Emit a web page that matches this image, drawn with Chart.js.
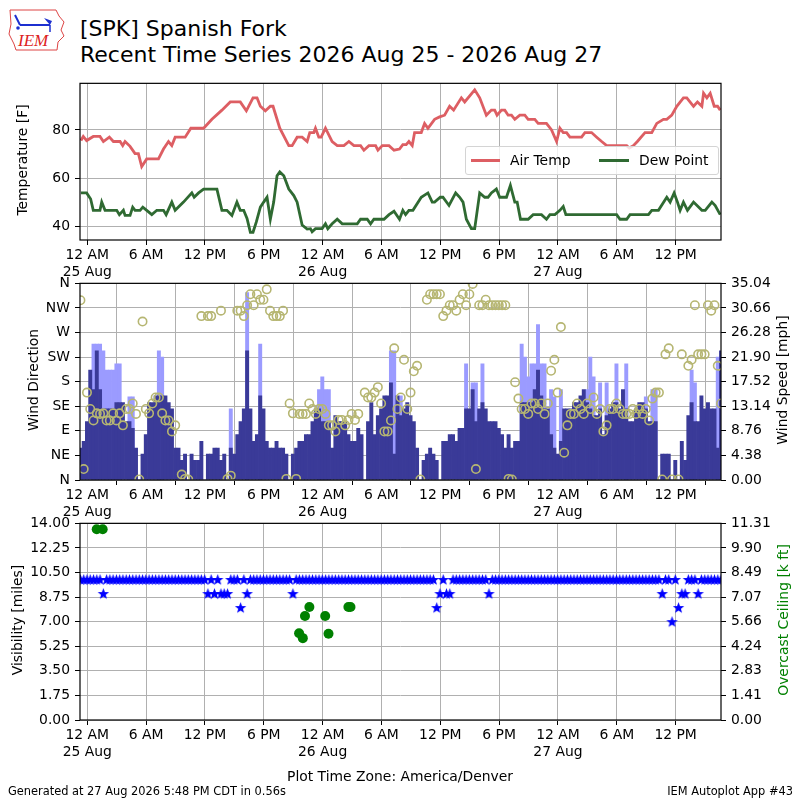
<!DOCTYPE html>
<html>
<head>
<meta charset="utf-8">
<script src="https://cdn.jsdelivr.net/npm/chart.js@4.4.1/dist/chart.umd.min.js"></script>
<style>
body { margin: 0; background: #fff; font-family: 'DejaVu Sans', sans-serif; }
#page { position: relative; width: 800px; height: 800px; overflow: hidden; }
canvas { position: absolute; left: 0; }
.lbl { position: absolute; white-space: nowrap; font-size: 13.9px; line-height: 1; color: #000; }
.rot { transform: translate(-50%, -50%) rotate(-90deg); }
</style>
</head>
<body>
<div id="page">
  <svg width="62" height="50" style="position:absolute;left:6px;top:4px">
    <path d="M4 6 L50 6 L53 12 L58 18 L55 26 L58 32 L52 38 L51 46 L10 46 L8 40 L3 30 L5 20 Z" fill="none" stroke="#d44" stroke-width="1"/>
    <line x1="14" y1="21" x2="44" y2="21" stroke="#1c2fd0" stroke-width="2"/>
    <line x1="14" y1="21" x2="9" y2="11" stroke="#1c2fd0" stroke-width="2"/>
    <path d="M38 14 L46 17 L44 21 Z" fill="#1c2fd0"/>
    <line x1="44" y1="21" x2="44" y2="28" stroke="#1c2fd0" stroke-width="1.5"/>
    <circle cx="12" cy="24" r="1.8" fill="#1c2fd0"/>
    <text x="12" y="42" font-family="'Liberation Serif', serif" font-style="italic" font-size="17" fill="#d22">IEM</text>
  </svg>
  <div style="position:absolute;left:80px;top:15.8px;font-size:22px;line-height:26.6px;white-space:nowrap">[SPK] Spanish Fork<br>Recent Time Series 2026 Aug 25 - 2026 Aug 27</div>

  <canvas id="c1" width="800" height="210" style="top:70px"></canvas>
  <canvas id="c2" width="800" height="250" style="top:270px"></canvas>
  <canvas id="c3" width="800" height="260" style="top:510px"></canvas>

  <div class="lbl rot" style="left:23px;top:160px">Temperature [F]</div>
  <div class="lbl rot" style="left:34px;top:380px">Wind Direction</div>
  <div class="lbl rot" style="left:783px;top:380px">Wind Speed [mph]</div>
  <div class="lbl rot" style="left:18px;top:620px">Visibility [miles]</div>
  <div class="lbl rot" style="left:784px;top:620px;color:#008000">Overcast Ceiling [k ft]</div>
  <div class="lbl" style="left:400px;top:777px;transform:translate(-50%,-50%)">Plot Time Zone: America/Denver</div>
  <div class="lbl" style="left:8px;top:786px;font-size:11.4px">Generated at 27 Aug 2026 5:48 PM CDT in 0.56s</div>
  <div class="lbl" style="right:7px;top:786px;font-size:11.4px">IEM Autoplot App #43</div>

  <div style="position:absolute;left:465px;top:146px;width:252px;height:27px;border:1px solid #d4d4d4;border-radius:3px;background:rgba(255,255,255,0.8)">
    <span style="position:absolute;left:5px;top:12px;width:29px;height:3px;background:#dd5e63"></span>
    <span class="lbl" style="left:44px;top:7px">Air Temp</span>
    <span style="position:absolute;left:133px;top:12px;width:30px;height:3px;background:#2f6a32"></span>
    <span class="lbl" style="left:173px;top:7px">Dew Point</span>
  </div>
</div>
<script>
// hours since 25 Aug 00:00 America/Denver
const xMin = -0.745, xMax = 64.63;
const tickHours = [0, 6, 12, 18, 24, 30, 36, 42, 48, 54, 60];
const tickLabels = [['12 AM', '25 Aug'], '6 AM', '12 PM', '6 PM', ['12 AM', '26 Aug'], '6 AM', '12 PM', '6 PM', ['12 AM', '27 Aug'], '6 AM', '12 PM'];

const tempHours = [-0.65,-0.41,-0.07,0.61,1.29,1.64,2.25,2.66,3.34,3.61,3.85,4.36,4.87,5.21,5.55,6.06,7.26,7.77,8.28,8.62,
  8.96,9.98,10.56,11.86,12.71,13.73,14.58,15.6,16.22,16.9,17.31,17.65,18.16,18.67,18.94,19.63,20.55,20.89,21.4,21.91,
  22.42,22.69,23.1,23.27,23.61,23.85,24.29,24.97,25.49,26.17,26.68,27.19,27.87,28.21,28.72,29.4,29.64,30.09,30.77,31.28,
  31.84,32.18,32.52,32.8,33.14,33.38,34.06,34.4,34.74,35.42,35.93,36.44,36.95,37.36,38.15,38.49,39.51,40.02,40.7,41.21,
  41.55,41.79,42.24,42.58,42.92,43.26,43.6,44.11,44.62,44.96,45.64,45.98,46.83,47.35,47.86,48.2,48.54,48.88,49.22,50.41,
  50.75,51.43,51.95,52.46,52.97,55.01,55.28,55.69,56.1,56.88,57.57,58.08,58.76,59.1,59.61,60.12,60.8,61.14,61.83,62.23,
  62.68,62.85,63.19,63.53,63.94,64.28,64.55];
const tempF = [75.6,77.3,75.6,77.3,77.3,75.2,77,75.2,75.2,73.5,75.2,73.2,70.2,70.2,64.8,68,68,72.1,75.2,73.5,
  77,77,80.7,80.7,84.4,88.2,91.6,91.6,87.9,93.3,93.3,89.8,87.9,89.8,89.8,80.7,73.5,73.5,77,77,
  75.2,78.9,78.9,80.7,77,77,80.7,75.2,73.5,73.5,75.2,73.5,73.5,71.6,73.5,73.5,71.6,73.5,73.5,71.6,
  72.1,73.9,73.9,75.2,73.5,78.9,78.9,82.7,80.7,84.4,85.4,86.1,89.8,88.2,93.3,91.6,96.6,93.3,86.1,88.2,
  88.2,86.1,88.2,88.2,86.1,86.1,84.4,86.1,86.1,84.4,84.4,82.7,82.7,80,75.2,80.7,78.9,78.9,77,77,
  78.9,78.9,77,75.2,73.5,73.5,72.5,73.5,75.2,78.9,78.9,82.7,84.4,84.4,86.1,89.8,93.3,93.3,89.8,91.6,
  89.8,95.2,93.3,95.2,89.8,89.8,88.2];

const dewHours = [-0.65,-0.07,0.34,0.61,1.29,1.47,1.81,3.0,3.27,3.68,3.85,4.36,4.63,4.87,5.38,5.66,6.06,6.58,7.09,7.77,
  8.04,8.62,8.96,9.81,10.66,10.9,11.35,11.86,13.22,13.73,14.24,14.75,15.26,15.6,15.95,16.29,16.63,16.9,17.24,17.65,
  17.99,18.33,18.67,19.01,19.35,19.63,20.04,20.55,21.06,21.4,21.91,22.42,22.76,22.93,23.27,23.95,24.29,24.53,24.97,25.49,
  26.0,27.53,27.87,28.55,28.89,29.23,30.26,30.77,31.28,31.84,32.18,32.46,32.8,33.21,34.06,34.74,35.18,35.42,36.0,36.27,
  36.89,37.57,37.98,38.32,38.66,39.17,39.51,40.02,40.53,40.87,41.21,41.72,42.06,42.75,43.15,43.6,43.84,44.18,44.96,45.47,
  46.32,46.83,47.18,47.69,48.2,48.54,48.81,53.99,54.33,55.01,55.35,57.23,57.57,58.25,59.1,59.44,59.85,60.19,60.46,60.8,
  61.21,61.83,62.68,63.02,63.7,64.04,64.55];
const dewF = [53.9,53.9,51.4,46.7,46.7,50.1,46.7,46.7,44.9,46.7,44.6,44.6,48,46.7,46.7,48,46.7,44.9,46.7,46.7,
  44.9,50.1,46.7,50.1,53.9,52.1,53.9,55.5,55.5,46.7,46.7,44.6,50.1,46.7,46.7,43.3,37.6,37.6,41.9,48,
  50.1,52.1,43,50.1,61,62.6,61,55.5,52.8,50.1,40.6,38.9,39.1,37.8,39.1,39.1,41.1,39.1,41.1,43,
  41.1,41.1,43,43,41.1,43,43,44.9,46.3,43,46.7,44.9,46.7,46.7,52.1,53.9,50.1,50.1,52.1,52.1,
  48.7,53.9,52.1,50.1,43,39.1,39.1,53.9,52.1,52.1,53.9,55.5,52.1,52.1,57,50.1,50.1,43,43,44.9,
  44.9,43,44.9,44.9,46.7,48.3,44.9,44.9,43,43,44.9,44.9,46.7,46.7,52.1,50.1,53.9,50.1,46.7,50.1,
  46.7,50.1,46.7,46.7,50.1,48.7,44.9];

// 20 minute observations starting 24 Aug 23:18
const obsStart = -0.7, obsStep = 1 / 3;
const windMph = [5.7,6.9,10.4,19.6,16.1,23.0,16.1,12.7,12.7,12.7, 12.7,13.8,13.8,13.8,10.4,10.4,9.2,5.7,0,4.6,
  8.1,13.8,13.8,15.0,15.0,15.0,15.0,13.8,12.7,5.7, 5.7,3.5,4.6,0,4.6,3.5,3.5,6.9,0,4.6,
  4.6,5.7,5.7,3.5,4.6,0,5.7,4.6,8.1,10.4, 12.7,23.0,12.7,6.9,8.1,15.0,12.7,6.9,5.7,5.7,
  6.9,5.7,5.7,4.6,0,4.6,5.7,6.9,6.9,8.1, 8.1,10.4,12.7,12.7,10.4,10.4,10.4,5.7,11.5,10.4,
  10.4,10.4,8.1,6.9,6.9,9.2,8.1,0,10.4,13.8, 8.1,11.5,12.7,15.0,15.0,17.3,4.6,15.0,11.5,12.7,
  13.8,11.5,10.4,5.7,0,3.5,4.6,5.7,4.6,3.5, 0,6.9,6.9,8.1,8.1,6.9,9.2,9.2,12.7,12.7,
  16.1,10.4,12.7,13.8,12.7,10.4,10.4,10.4,9.2,8.1, 5.7,8.1,5.7,6.9,6.9,13.8,13.8,13.8,13.8,16.1,
  19.6,15.0,12.7,12.7,8.1,5.7,4.6,6.9,12.7,12.7, 12.7,13.8,13.8,15.0,16.1,13.8,12.7,11.5,11.5,12.7,
  8.1,11.5,12.7,13.8,13.8,12.7,16.1,12.7,10.4,10.4, 12.7,13.8,13.8,12.7,10.4,10.4,10.4,0,4.6,4.6,
  4.6,0,3.5,0,6.9,3.5,11.5,13.8,10.4,10.4, 15.0,12.7,13.8,12.7,12.7,5.7,23.0];
const gustMph = [null,null,null,null,24.2,24.2,24.2,23.0,19.6,19.6, 19.6,20.7,20.7,null,null,14.8,14.8,null,null,null,
  null,null,null,null,23.0,21.9,null,null,null,null, null,null,null,null,null,null,null,null,null,null,
  null,null,null,null,null,null,12.7,null,null,null, null,33.4,null,null,null,24.2,null,null,null,null,
  null,null,null,null,null,null,null,null,null,null, null,null,null,16.1,18.4,16.1,16.1,null,null,null,
  null,null,null,null,null,null,null,null,null,null, null,null,null,null,null,23.0,23.0,null,15.0,null,
  null,null,null,null,null,null,null,null,null,null, null,null,null,null,null,null,null,null,20.7,null,
  17.3,17.3,null,20.7,null,null,null,null,null,null, null,null,null,null,null,24.2,21.9,18.4,20.7,20.7,
  27.7,20.7,20.7,null,16.1,14.8,null,16.1,null,null, null,null,null,null,null,16.1,21.9,18.4,null,17.3,
  null,17.3,null,null,20.7,null,null,20.7,null,null, null,null,null,14.8,null,16.1,16.1,null,null,null,
  null,null,null,null,null,null,null,19.6,17.3,null, null,null,null,null,null,21.9,null];
const windDir = [329,20,160,130,109,122,121,122,109,109, 122,109,122,100,130,130,140,121,1,290,
  130,122,140,151,151,122,109,109,89,100, null,10,2,1,null,null,null,300,null,300,
  300,null,null,310,null,2,8,null,310,310, 300,320,340,320,340,330,330,349,310,300,
  300,300,310,2,140,122,2,121,121,121, 140,130,121,130,130,121,100,100,89,110,
  110,100,110,121,110,121,null,160,151,151, 160,170,140,89,89,109,241,130,151,220,
  130,160,199,209,1,null,330,340,340,340, 340,300,310,320,320,310,330,340,320,340,
  359,20,320,320,330,320,320,320,320,320, 320,2,1,179,149,130,130,121,140,140,
  130,140,121,140,200,220,160,280,50,100, 121,121,140,130,121,140,130,151,121,130,
  89,100,130,130,140,130,121,121,121,130, 121,130,121,130,109,149,160,160,1,230,
  241,1,null,1,230,null,209,220,320,230, 230,230,320,310,320,209,140];
const visMiles = [10,10,10,10,10,10,10,9,10,10, 10,10,10,10,10,10,10,10,10,10,
  10,10,10,10,10,10,10,10,10,10, 10,10,10,10,10,10,10,10,10,9,
  10,9,10,9,9,9,10,10,10,8, 10,9,10,10,10,10,10,10,10,10,
  10,10,10,10,10,9,10,10,10,10, 10,10,10,10,10,10,10,10,10,10,
  10,10,10,10,10,10,10,10,10,10, 10,10,10,10,10,10,10,10,10,10,
  10,10,10,10,10,10,10,10,10,8, 9,10,9,9,10,10,10,10,10,10,
  10,10,10,10,10,9,10,10,10,10, 10,10,10,10,10,10,10,10,10,10,
  10,10,10,10,10,10,10,10,10,10, 10,10,10,10,10,10,10,10,10,10,
  10,10,10,10,10,10,10,10,10,10, 10,10,10,10,10,10,10,10,9,10,
  10,7,10,8,9,9,10,10,10,9, 10,10,10,10,10,10,10];

const ceilHours = [0.96, 1.57, 21.6, 21.98, 22.2, 22.65, 24.26, 24.6, 26.63, 26.84];
const ceilKft = [10.97, 10.97, 4.99, 4.71, 5.98, 6.5, 5.98, 4.96, 6.5, 6.5];

const tempTicks = [40, 60, 80];
const dirTicks = [0, 45, 90, 135, 180, 225, 270, 315, 360];
const dirLabels = ['N', 'NE', 'E', 'SE', 'S', 'SW', 'W', 'NW', 'N'];
const speedTicks = [0, 4.38, 8.76, 13.14, 17.52, 21.90, 26.28, 30.66, 35.04];
const visTicks = [0, 1.75, 3.5, 5.25, 7, 8.75, 10.5, 12.25, 14];
const ceilTicks = [0, 1.4142, 2.8284, 4.2426, 5.6569, 7.0711, 8.4853, 9.8995, 11.3137];

Chart.defaults.font.family = "'DejaVu Sans', sans-serif";
Chart.defaults.font.size = 13.9;
Chart.defaults.color = '#000';
Chart.defaults.animation = false;

const gridColor = '#b0b0b0';

let frame = {
  id: 'frame',
  afterDraw: (chart) => {
    let a = chart.chartArea;
    let ctx = chart.ctx;
    ctx.save();
    ctx.strokeStyle = '#000';
    ctx.lineWidth = 1.2;
    ctx.strokeRect(a.left, a.top, a.right - a.left, a.bottom - a.top);
    ctx.restore();
  }
};

let setTicks = (vals) => (axis) => { axis.ticks = vals.map(v => ({ value: v })); };

let xAxis = (h) => ({
  type: 'linear', min: xMin, max: xMax, offset: false,
  afterBuildTicks: setTicks(tickHours),
  afterFit: (axis) => { axis.height = h; },
  ticks: { autoSkip: false, maxRotation: 0, minRotation: 0, padding: 2, callback: (v, i) => tickLabels[i] },
  grid: { color: gridColor, tickColor: '#000', tickLength: 5 },
  border: { display: false }
});

let yAxis = (pos, min, max, vals, labels, onChart) => ({
  type: 'linear', position: pos, min: min, max: max,
  afterBuildTicks: setTicks(vals),
  afterFit: (axis) => { axis.width = pos === 'left' ? 80 : 79; },
  ticks: { padding: 5, callback: (v, i) => labels[i] },
  grid: { color: gridColor, tickColor: '#000', tickLength: 5, drawOnChartArea: onChart },
  border: { display: false }
});

let pts = (xs, ys) => xs.map((x, i) => ({ x: x, y: ys[i] }));
let windHours = windMph.map((_, i) => obsStart + i * obsStep);

// temperature panel
new Chart(document.getElementById('c1'), {
  type: 'line',
  data: {
    datasets: [
      { label: 'Air Temp', data: pts(tempHours, tempF), borderColor: '#dd5e63', borderWidth: 2.8, pointRadius: 0, tension: 0 },
      { label: 'Dew Point', data: pts(dewHours, dewF), borderColor: '#2f6a32', borderWidth: 2.8, pointRadius: 0, tension: 0 }
    ]
  },
  options: {
    responsive: false,
    layout: { padding: { top: 11, right: 79, left: 0, bottom: 0 } },
    plugins: { legend: { display: false }, tooltip: { enabled: false } },
    scales: {
      x: xAxis(40),
      y: yAxis('left', 34.4, 99.3, tempTicks, tempTicks.map(String), true)
    }
  },
  plugins: [frame]
});

// wind panel
new Chart(document.getElementById('c2'), {
  type: 'bar',
  data: {
    datasets: [
      { type: 'scatter', data: pts(windHours, windDir), yAxisID: 'y', order: 0, pointStyle: 'circle', pointRadius: 4.2,
        borderColor: '#b6b672', backgroundColor: 'rgba(0,0,0,0)', borderWidth: 1.6 },
      { type: 'bar', data: pts(windHours, windMph), yAxisID: 'y2', order: 1, backgroundColor: '#3a3a98',
        grouped: false, barPercentage: 1, categoryPercentage: 1, borderWidth: 0 },
      { type: 'bar', data: pts(windHours, gustMph), yAxisID: 'y2', order: 2, backgroundColor: '#9b9bff',
        grouped: false, barPercentage: 1, categoryPercentage: 1, borderWidth: 0 }
    ]
  },
  options: {
    responsive: false,
    layout: { padding: { top: 10, right: 0, left: 0, bottom: 0 } },
    plugins: { legend: { display: false }, tooltip: { enabled: false } },
    scales: {
      x: xAxis(40),
      y: yAxis('left', 0, 360, dirTicks, dirLabels, true),
      y2: yAxis('right', 0, 35.04, speedTicks, speedTicks.map(v => v.toFixed(2)), false)
    }
  },
  plugins: [frame]
});

// filled five point star marker
let star = document.createElement('canvas');
star.width = 13; star.height = 13;
let sctx = star.getContext('2d');
sctx.fillStyle = '#0000ff';
sctx.beginPath();
for (let k = 0; k < 10; k++) {
  let r = k % 2 === 0 ? 6 : 2.5;
  let ang = -Math.PI / 2 + k * Math.PI / 5;
  let px = 6.5 + r * Math.cos(ang), py = 6.9 + r * Math.sin(ang);
  if (k === 0) sctx.moveTo(px, py); else sctx.lineTo(px, py);
}
sctx.closePath();
sctx.fill();

// visibility / ceiling panel
new Chart(document.getElementById('c3'), {
  type: 'scatter',
  data: {
    datasets: [
      { data: pts(windHours, visMiles), yAxisID: 'y', pointStyle: star, pointRadius: 5 },
      { data: pts(ceilHours, ceilKft), yAxisID: 'y2', pointStyle: 'circle', pointRadius: 5,
        backgroundColor: '#008000', borderColor: '#008000', borderWidth: 0 }
    ]
  },
  options: {
    responsive: false,
    layout: { padding: { top: 10, right: 0, left: 0, bottom: 0 } },
    plugins: { legend: { display: false }, tooltip: { enabled: false } },
    scales: {
      x: xAxis(50),
      y: yAxis('left', 0, 14, visTicks, visTicks.map(v => v.toFixed(2)), true),
      y2: yAxis('right', 0, 11.3137, ceilTicks, ceilTicks.map(v => v.toFixed(2)), false)
    }
  },
  plugins: [frame]
});
</script>
</body>
</html>
